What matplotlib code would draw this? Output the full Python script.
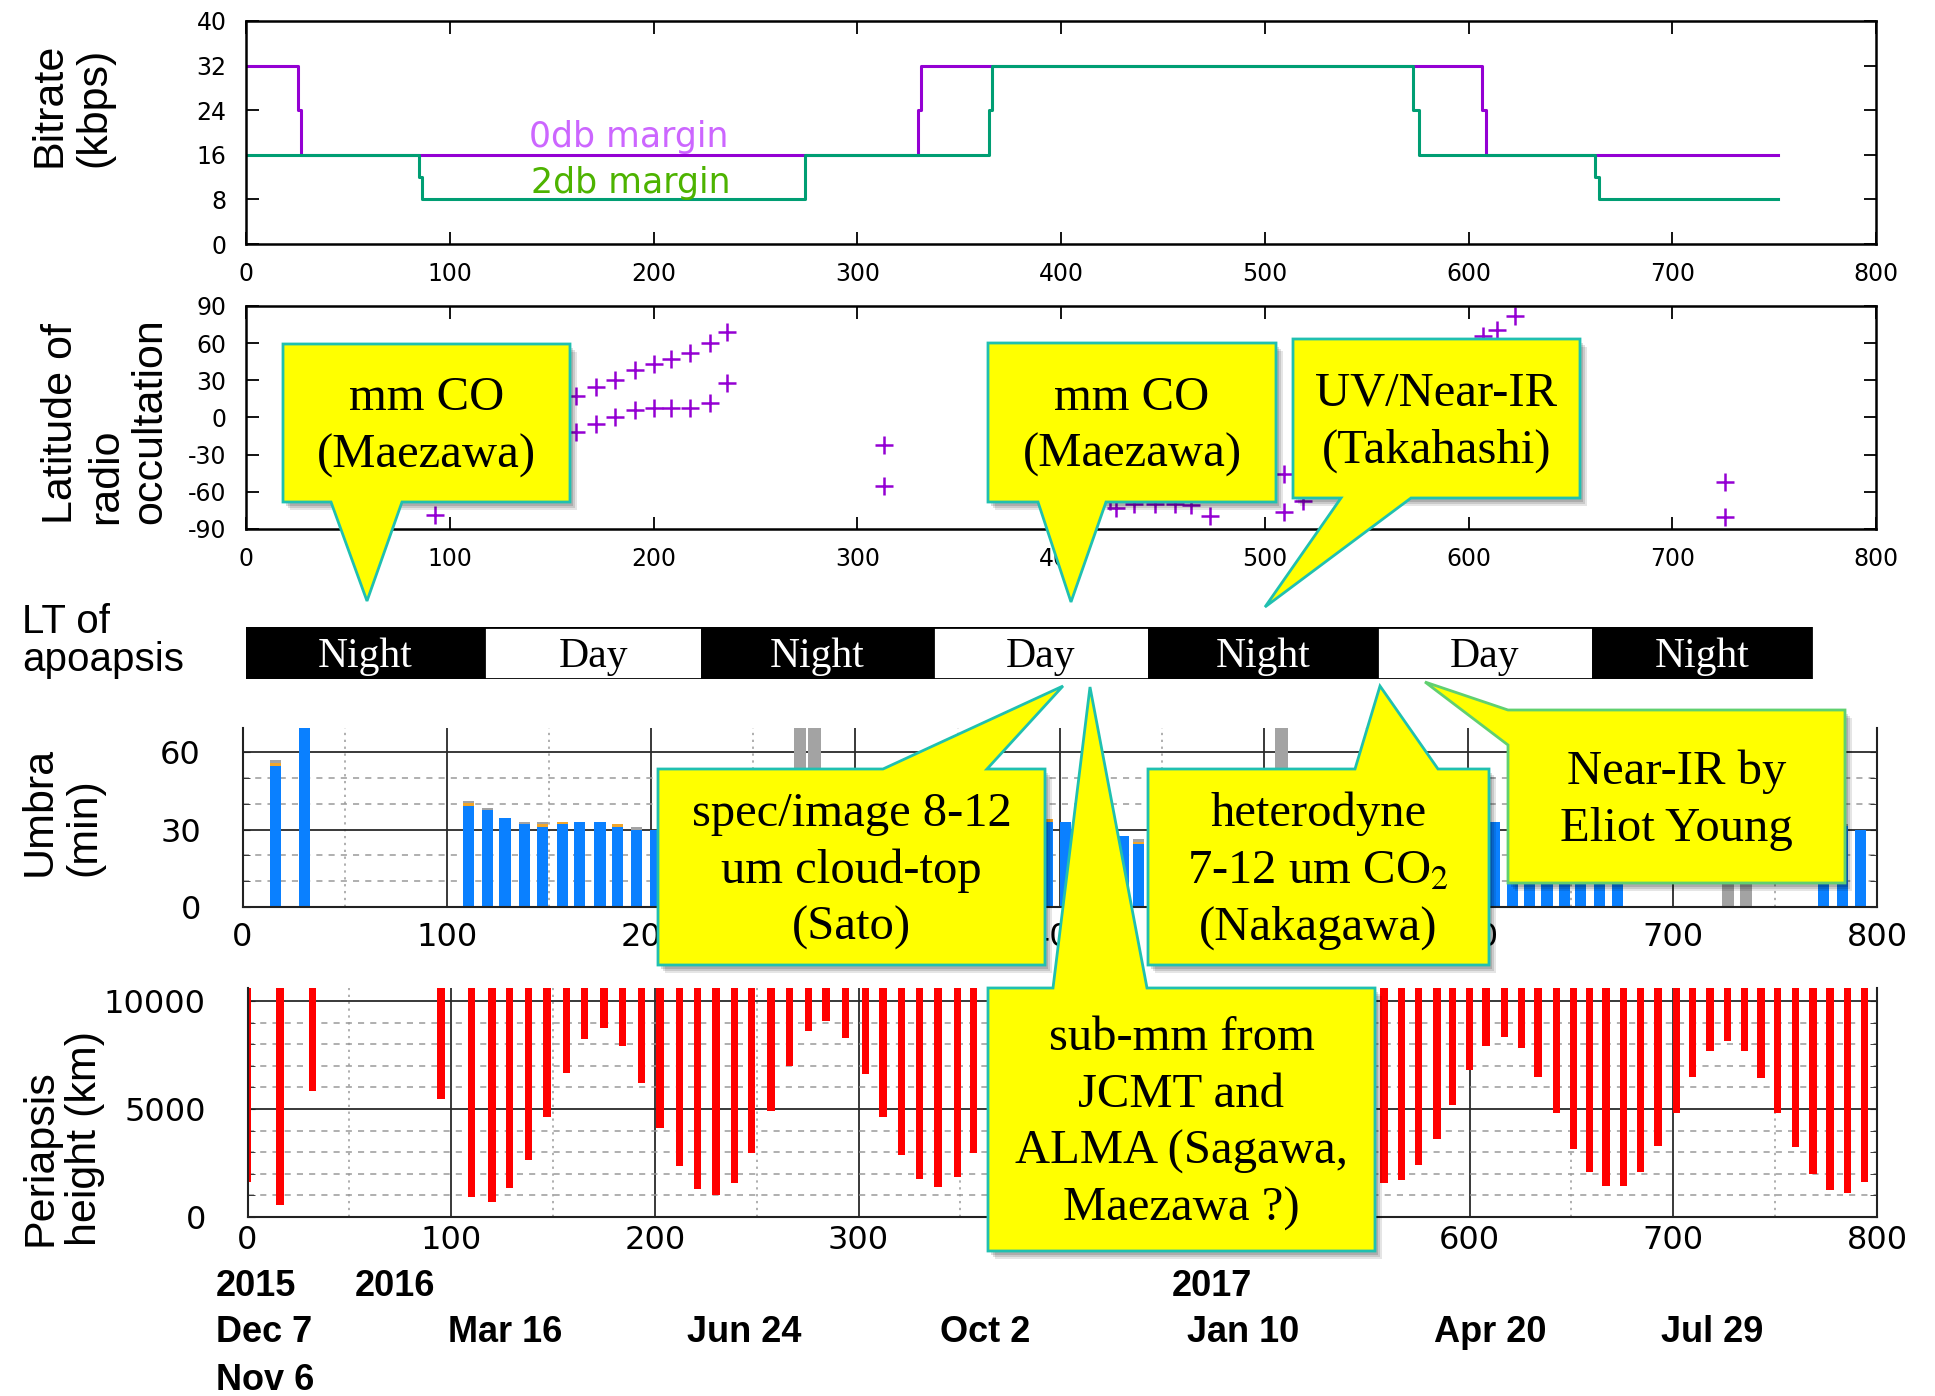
import matplotlib
matplotlib.use("Agg")
import matplotlib.pyplot as plt
from matplotlib.patches import Polygon, Rectangle
import numpy as np

plt.rcParams['axes.unicode_minus'] = False
plt.rcParams['mathtext.fontset'] = 'stix'

# downlink bitrate vs. days since orbit insertion (step changes)
rate0_day = [0, 25.5, 27, 330, 331.5, 606.5, 608.5, 752]
rate0_kbps = [32, 24, 16, 24, 32, 24, 16, 16]
rate2_day = [0, 85, 86.5, 274.5, 364.5, 366, 573, 575.5, 662, 664, 752]
rate2_kbps = [16, 12, 8, 16, 24, 32, 24, 16, 12, 8, 8]

# radio occultation latitudes
occ_day = [93, 162, 172, 181, 191, 200, 208.5, 218, 227.5, 236,
           162, 172, 181, 191, 200, 208.5, 218, 227.5, 236,
           313, 313, 424, 427, 436, 446, 456, 464, 473,
           509.5, 509.5, 519, 607, 614, 623, 726, 726]
occ_lat = [-79, 17, 25, 30, 38, 43, 47, 52, 60, 69,
           -12, -5.5, 0, 6, 7.5, 7.5, 7.5, 12, 28,
           -22, -55, -67, -73, -70, -70, -70, -71, -79.5,
           -46, -76, -67, 66, 71, 82, -52, -80]

# local time of apoapsis
lt_edges = [0, 117, 224, 337, 443, 555, 661, 768]
lt_labels = ['Night', 'Day', 'Night', 'Day', 'Night', 'Day', 'Night']

# umbra duration per orbit (min)
umbra_day = [16, 30.5, 110.5, 120, 128.5, 138, 147, 156.5, 165, 175, 183.5, 193, 202,
             394, 403, 431, 438.5, 612.5, 621.5, 630, 638.5, 647, 655, 664, 673,
             774, 783, 792]
umbra_min = [54.7, 75, 39.1, 37.5, 34.3, 32.1, 31, 32.1, 33, 33, 31, 29.8, 30,
             33, 33, 27.4, 24.3, 33, 33, 33, 33, 33, 33, 33, 33,
             31, 31.5, 30]
umbra_orange = [1.0, 0, 1.0, 0, 0, 0, 1.0, 1.0, 0, 0, 1.0, 0, 0,
                1.0, 0, 0, 1.0, 0, 0, 0, 0, 0, 0, 0, 0,
                0, 0, 0]
umbra_gray = [1.2, 0, 1.0, 1.0, 0, 1.0, 1.0, 0, 0, 0, 0, 1.0, 0,
              0, 0, 0, 1.0, 0, 0, 0, 0, 0, 0, 0, 0,
              1.0, 0.8, 0]
conj_day = [273, 280, 508.5, 727, 736]
conj_min = [75, 75, 75, 75, 75]

# periapsis height per orbit (km)
peri_day = [0, 16, 32, 95, 110, 120, 128.5, 138, 147, 156.5, 165.5, 175, 184, 193.5,
            202.5, 212, 221, 230, 239, 247.5, 257, 266, 275.5, 284, 293.5, 303.5, 312,
            321, 330, 339, 348.5, 356.5,
            558, 566.5, 575, 584, 591.5, 600, 608, 617, 625.5, 633.5, 642.5, 651, 659,
            667, 675.5, 684, 692.5, 701.5, 709.5, 718, 726.5, 735, 743, 751, 760,
            768.5, 777, 785.5, 794]
peri_km = [1620, 570, 5840, 5440, 930, 710, 1320, 2660, 4610, 6650, 8240, 8730, 7930, 6180,
           4130, 2350, 1280, 1040, 1590, 2970, 4920, 6990, 8610, 9090, 8280, 6620, 4610,
           2890, 1780, 1380, 1830, 2970,
           1590, 1700, 2400, 3630, 5180, 6800, 7930, 8350, 7810, 6460, 4820, 3170, 2060,
           1420, 1420, 2090, 3290, 4820, 6490, 7700, 8150, 7700, 6440, 4820, 3220,
           1970, 1270, 1130, 1620]

years = ['2015', '2016', '2017']
dates = ['Dec 7', 'Mar 16', 'Jun 24', 'Oct 2', 'Jan 10', 'Apr 20', 'Jul 29']

W, H = 1935, 1396
fig = plt.figure(figsize=(W / 100, H / 100), dpi=100)

NARROW = ['Liberation Sans Narrow', 'DejaVu Sans']
SANS = ['Liberation Sans', 'DejaVu Sans']
SERIF = ['Liberation Serif', 'DejaVu Serif']


def px_rect(x0, y0, x1, y1):
    return [x0 / W, 1 - y1 / H, (x1 - x0) / W, (y1 - y0) / H]


def gnuplot_frame(ax, yticks):
    ax.set_xlim(0, 800)
    xt = list(range(0, 801, 100))
    ax.set_xticks(xt, [str(t) for t in xt], fontfamily=NARROW, fontsize=17)
    ax.set_yticks(yticks, [str(t) for t in yticks], fontfamily=NARROW, fontsize=17)
    ax.tick_params(direction='in', length=9, width=1.3, top=True, right=True)
    ax.tick_params(axis='x', pad=13)
    ax.tick_params(axis='y', pad=14)
    for s in ax.spines.values():
        s.set_linewidth(1.8)


def ylabel(x, y, txt):
    fig.text(x / W, 1 - y / H, txt, rotation=90, ha='center', va='bottom',
             multialignment='left', fontsize=31, family=SANS, linespacing=1.15)


# bitrate
ax1 = fig.add_axes(px_rect(246, 21, 1876, 244))
ax1.step(rate0_day, rate0_kbps, where='post', color='#9400d3', lw=2.2)
ax1.step(rate2_day, rate2_kbps, where='post', color='#009e73', lw=2.2)
ax1.set_ylim(0, 40)
gnuplot_frame(ax1, list(range(0, 41, 8)))
ax1.text(188, 19.2, '0db margin', color='#cc66ff', ha='center', va='center',
         fontsize=25, family=NARROW)
ax1.text(189, 10.9, '2db margin', color='#4db300', ha='center', va='center',
         fontsize=25, family=NARROW)
ylabel(72, 167, 'Bitrate\n(kbps)')

# occultation latitude
ax2 = fig.add_axes(px_rect(246, 306, 1876, 529))
ax2.scatter(occ_day, occ_lat, marker='+', s=160, color='#9400d3', linewidths=1.8)
ax2.set_ylim(-90, 90)
gnuplot_frame(ax2, list(range(-90, 91, 30)))
ylabel(106, 524, 'Latitude of\nradio\noccultation')

# LT of apoapsis band
axb = fig.add_axes(px_rect(246, 627, 1876, 679))
for i, lab in enumerate(lt_labels):
    x0, x1 = lt_edges[i], lt_edges[i + 1]
    night = lab == 'Night'
    axb.add_patch(Rectangle((x0, 0), x1 - x0, 1, facecolor='black' if night else 'white',
                            edgecolor='black', lw=2))
    axb.text((x0 + x1) / 2, 0.42, lab, color='white' if night else 'black',
             ha='center', va='center', fontsize=30, family=SERIF)
axb.set_xlim(0, 800)
axb.set_ylim(0, 1)
axb.axis('off')
fig.text(22 / W, 1 - 603 / H, 'LT of\napoapsis', ha='left', va='top', fontsize=29,
         family=SANS, linespacing=1.0)


def matlab_frame(ax, yt, yminor, ylim, xpad):
    ax.set_xlim(0, 800)
    ax.set_ylim(*ylim)
    xt = list(range(0, 801, 100))
    ax.set_xticks(xt, [str(t) for t in xt], fontsize=23, family='DejaVu Sans')
    ax.set_yticks(yt, [str(t) for t in yt], fontsize=23, family='DejaVu Sans')
    ax.set_xticks(list(range(50, 800, 100)), minor=True)
    ax.set_yticks(yminor, minor=True)
    ax.grid(which='major', color='#2a2a2a', lw=1.3)
    ax.grid(which='minor', axis='y', color='#9a9a9a', ls=(0, (4, 4)), lw=1.1)
    ax.grid(which='minor', axis='x', color='#9a9a9a', ls=(0, (1.5, 3)), lw=1.1)
    ax.set_axisbelow(True)
    ax.spines['top'].set_visible(False)
    for s in ax.spines.values():
        s.set_linewidth(1.5)
        s.set_color('#222222')
    ax.tick_params(which='both', direction='in', length=5, right=True, color='#222222')
    ax.tick_params(axis='x', which='both', pad=xpad, length=0)
    ax.tick_params(axis='y', which='major', pad=30)


# umbra
ax3 = fig.add_axes(px_rect(242.5, 728, 1877, 907))
ax3.bar(conj_day, conj_min, width=6, color='#a3a3a3')
ax3.bar(umbra_day, umbra_min, width=5.5, color='#0a80ff')
ax3.bar(umbra_day, umbra_orange, bottom=umbra_min, width=5.5, color='#f2a62a')
ax3.bar(umbra_day, umbra_gray, bottom=np.add(umbra_min, umbra_orange), width=5.5,
        color='#a3a3a3')
matlab_frame(ax3, [0, 30, 60], [10, 20, 40, 50], (0, 69.3), 11)
ylabel(62, 876, 'Umbra\n(min)')

# periapsis height, bars hang from the top of the frame
ax4 = fig.add_axes(px_rect(247.5, 988, 1877, 1217))
ax4.bar(peri_day, np.subtract(12000, peri_km), bottom=peri_km, width=3.6, color='#ff0000')
matlab_frame(ax4, [0, 5000, 10000], [1000, 2000, 3000, 4000, 6000, 7000, 8000, 9000],
             (0, 10600), 6)
ylabel(63, 1246, 'Periapsis\nheight (km)')

# calendar labels under the day axis
for lab, x in zip(years, [216, 355, 1172]):
    fig.text(x / W, 1 - 1287 / H, lab, ha='left', va='center', fontsize=26,
             fontweight='bold', family=SANS)
for lab, x in zip(dates, [216, 448, 687, 940, 1187, 1434, 1661]):
    fig.text(x / W, 1 - 1333 / H, lab, ha='left', va='center', fontsize=26,
             fontweight='bold', family=SANS)
fig.text(216 / W, 1 - 1380 / H, 'Nov 6', ha='left', va='center', fontsize=26,
         fontweight='bold', family=SANS)

# speech-bubble notes, drawn in pixel space on top of everything
ov = fig.add_axes([0, 0, 1, 1], zorder=10)
ov.set_xlim(0, W)
ov.set_ylim(H, 0)
ov.axis('off')
ov.patch.set_alpha(0)


def callout(outline, box, text, edge='#20c0b0'):
    x0, y0, x1, y1 = box
    for k, a in [(7, 0.10), (5, 0.12), (3, 0.14)]:
        ov.add_patch(Rectangle((x0 + k, y0 + k + 1), x1 - x0, y1 - y0,
                               facecolor='black', alpha=a, lw=0))
    ov.add_patch(Polygon(outline, closed=True, facecolor='#ffff00', edgecolor=edge,
                         lw=2, joinstyle='miter'))
    ov.text((x0 + x1) / 2, (y0 + y1) / 2 + 4, text, ha='center', va='center',
            fontsize=35, family=SERIF, linespacing=1.38)


callout([(283, 344), (570, 344), (570, 502), (402, 502), (367, 601), (331, 502), (283, 502)],
        (283, 344, 570, 502), 'mm CO\n(Maezawa)')
callout([(988, 343), (1276, 343), (1276, 502), (1106, 502), (1071, 602), (1038, 502), (988, 502)],
        (988, 343, 1276, 502), 'mm CO\n(Maezawa)')
callout([(1293, 339), (1580, 339), (1580, 498), (1411, 498), (1265, 607), (1341, 498), (1293, 498)],
        (1293, 339, 1580, 498), 'UV/Near-IR\n(Takahashi)')
callout([(658, 769), (883, 769), (1063, 686), (987, 769), (1045, 769), (1045, 965), (658, 965)],
        (658, 769, 1045, 965), 'spec/image 8-12\num cloud-top\n(Sato)')
callout([(1148, 769), (1355, 769), (1380, 686), (1438, 769), (1489, 769), (1489, 965), (1148, 965)],
        (1148, 769, 1489, 965), 'heterodyne\n7-12 um CO$_2$\n(Nakagawa)')
callout([(1508, 710), (1845, 710), (1845, 883), (1508, 883), (1508, 745), (1425, 682)],
        (1508, 710, 1845, 883), 'Near-IR by\nEliot Young', edge='#60d070')
callout([(988, 988), (1053, 988), (1090, 687), (1147, 988), (1375, 988), (1375, 1251), (988, 1251)],
        (988, 988, 1375, 1251), 'sub-mm from\nJCMT and\nALMA (Sagawa,\nMaezawa ?)')

fig.savefig('out.png', dpi=100)
